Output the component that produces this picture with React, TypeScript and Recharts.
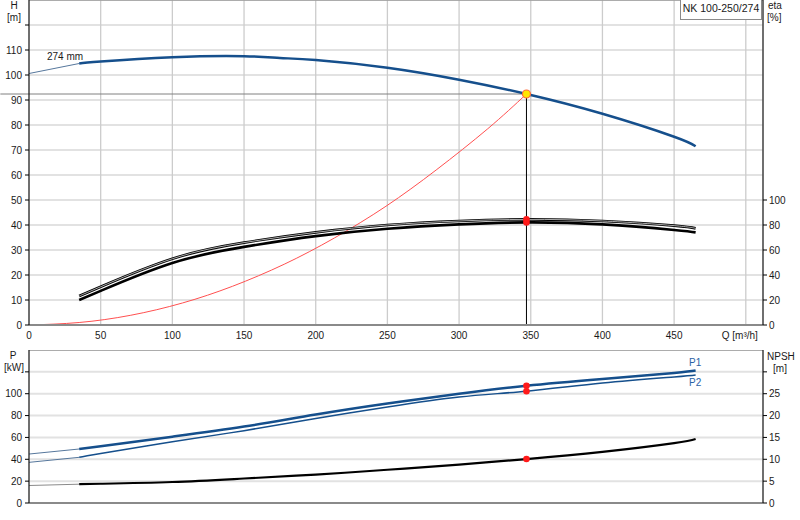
import React from 'react';
import { ComposedChart, Line, XAxis, YAxis, CartesianGrid, ReferenceLine, ReferenceDot } from 'recharts';

// ---------- ticks ----------
const qTicks = [0, 50, 100, 150, 200, 250, 300, 350, 400, 450, 500];
const hTicks = [0, 10, 20, 30, 40, 50, 60, 70, 80, 90, 100, 110, 120];
const etaTicks = [0, 20, 40, 60, 80, 100];
const pTicks = [0, 20, 40, 60, 80, 100, 120];
const npshTicks = [0, 5, 10, 15, 20, 25, 30];

// ---------- head curve (H [m]) ----------
const hThin = [
  { q: 0, v: 100.6 },
  { q: 35, v: 104.6 },
];
const hThick = [
  { q: 35, v: 104.6 },
  { q: 50, v: 105.4 },
  { q: 100, v: 107.1 },
  { q: 150, v: 107.5 },
  { q: 175, v: 106.8 },
  { q: 200, v: 106.0 },
  { q: 250, v: 102.9 },
  { q: 300, v: 98.1 },
  { q: 347, v: 92.4 },
  { q: 400, v: 84.5 },
  { q: 450, v: 75.3 },
  { q: 465, v: 71.5 },
];

// ---------- system curve (H [m]) ----------
const system = [
  { q: 0, v: 0 },
  { q: 35, v: 1.0 },
  { q: 71, v: 3.9 },
  { q: 107, v: 8.8 },
  { q: 142, v: 15.5 },
  { q: 178, v: 24.3 },
  { q: 213, v: 34.8 },
  { q: 249, v: 47.5 },
  { q: 284, v: 62.0 },
  { q: 320, v: 78.5 },
  { q: 347, v: 92.4 },
];

// ---------- efficiency (eta [%]) ----------
const etaUpper = [
  { q: 35, v: 23.2 },
  { q: 50, v: 30.6 },
  { q: 100, v: 53.0 },
  { q: 150, v: 65.9 },
  { q: 200, v: 74.1 },
  { q: 250, v: 80.0 },
  { q: 300, v: 83.2 },
  { q: 347, v: 84.5 },
  { q: 400, v: 83.2 },
  { q: 450, v: 79.5 },
  { q: 465, v: 77.3 },
];
const etaLower = [
  { q: 35, v: 20.0 },
  { q: 50, v: 27.3 },
  { q: 100, v: 49.6 },
  { q: 150, v: 62.5 },
  { q: 200, v: 71.1 },
  { q: 250, v: 77.0 },
  { q: 300, v: 80.5 },
  { q: 347, v: 82.1 },
  { q: 400, v: 80.5 },
  { q: 450, v: 76.0 },
  { q: 465, v: 74.1 },
];

// ---------- power (P [kW]) ----------
const p1Thin = [
  { q: 0, v: 44.8 },
  { q: 35, v: 49.4 },
];
const p1Thick = [
  { q: 35, v: 49.4 },
  { q: 50, v: 52.0 },
  { q: 100, v: 60.7 },
  { q: 150, v: 69.9 },
  { q: 200, v: 81.0 },
  { q: 250, v: 91.1 },
  { q: 300, v: 100.0 },
  { q: 347, v: 107.3 },
  { q: 400, v: 113.5 },
  { q: 450, v: 119.0 },
  { q: 465, v: 121.2 },
];
const p2Thin = [
  { q: 0, v: 37.2 },
  { q: 35, v: 41.8 },
];
const p2Thick = [
  { q: 35, v: 41.8 },
  { q: 50, v: 45.3 },
  { q: 100, v: 56.1 },
  { q: 150, v: 66.2 },
  { q: 200, v: 77.3 },
  { q: 250, v: 87.8 },
  { q: 300, v: 97.0 },
  { q: 347, v: 102.3 },
  { q: 400, v: 109.8 },
  { q: 450, v: 115.4 },
  { q: 465, v: 117.2 },
];

// ---------- NPSH [m] ----------
const npshThin = [
  { q: 0, v: 4.0 },
  { q: 35, v: 4.3 },
];
const npshThick = [
  { q: 35, v: 4.3 },
  { q: 50, v: 4.4 },
  { q: 100, v: 4.8 },
  { q: 150, v: 5.6 },
  { q: 200, v: 6.5 },
  { q: 250, v: 7.6 },
  { q: 300, v: 8.8 },
  { q: 347, v: 10.05 },
  { q: 400, v: 11.7 },
  { q: 450, v: 13.7 },
  { q: 465, v: 14.65 },
];

// ---------- operating point ----------
const opQ = 347;
const opH = 92.4;
const opEta = [84.5, 82.1];
const opP = [107.3, 102.3];
const opNpsh = 10.05;

const FONT = '"Liberation Sans", Arial, sans-serif';
const BLUE = '#154f8c';
const TXT = '#1a1a1a';

const makeYTick = (anchor: 'start' | 'end', hide: number[]) => (props: any) => {
  const { x, y, payload } = props;
  if (hide.includes(payload.value)) return <g />;
  return (
    <text x={x} y={y} textAnchor={anchor} dominantBaseline="central" fontFamily={FONT} fontSize={10} fill={TXT}>
      {payload.value}
    </text>
  );
};

const QTick = (props: any) => {
  const { x, y, payload } = props;
  const label = payload.value === 500 ? 'Q [m³/h]' : String(payload.value);
  const dx = payload.value === 500 ? -6 : 0;
  return (
    <text x={x + dx} y={y + 10} textAnchor="middle" dominantBaseline="central" fontFamily={FONT} fontSize={10} fill={TXT}>
      {label}
    </text>
  );
};

const lineCommon = {
  dot: false as const,
  activeDot: false as const,
  isAnimationActive: false,
  type: 'natural' as const,
  dataKey: 'v',
  xAxisId: 'q',
};

export default function App() {
  return (
    <div style={{ position: 'absolute', left: 0, top: 0, width: 800, height: 520, background: '#fff', overflow: 'hidden' }}>
      <div style={{ position: 'absolute', left: 0, top: 0 }}>
        <ComposedChart width={800} height={345} margin={{ top: 0, right: 0, bottom: 0, left: 0 }}>
          <CartesianGrid xAxisId="q" yAxisId="h" vertical={false} stroke="#e2e2e2" strokeWidth={2} />
          <CartesianGrid xAxisId="q" yAxisId="h" horizontal={false} stroke="#cccccc" strokeWidth={1.3} />
          <XAxis
            xAxisId="q"
            type="number"
            dataKey="q"
            domain={[0, 512]}
            allowDataOverflow
            ticks={qTicks}
            height={20}
            tickLine={false}
            tickSize={0}
            tickMargin={0}
            axisLine={{ stroke: '#8a8a8a', strokeWidth: 2 }}
            tick={QTick}
            interval={0}
          />
          <YAxis
            yAxisId="h"
            orientation="left"
            type="number"
            domain={[0, 130]}
            allowDataOverflow
            ticks={hTicks}
            width={29}
            tickSize={4}
            tickMargin={3}
            axisLine={{ stroke: '#000' }}
            tickLine={{ stroke: '#000' }}
            tick={makeYTick('end', [120])}
            interval={0}
          />
          <YAxis
            yAxisId="eta"
            orientation="right"
            type="number"
            domain={[0, 260]}
            allowDataOverflow
            ticks={etaTicks}
            width={37}
            tickSize={4}
            tickMargin={2}
            axisLine={{ stroke: '#000' }}
            tickLine={{ stroke: '#000' }}
            tick={makeYTick('start', [])}
            interval={0}
          />
          <ReferenceLine xAxisId="q" yAxisId="h" y={130} stroke="#9a9a9a" strokeWidth={1.5} />
          <ReferenceLine
            xAxisId="q"
            yAxisId="h"
            segment={[{ x: -20, y: opH }, { x: opQ, y: opH }]}
            ifOverflow="visible"
            stroke="#808080"
            strokeWidth={1}
          />
          <ReferenceLine
            xAxisId="q"
            yAxisId="h"
            segment={[{ x: opQ, y: 0 }, { x: opQ, y: opH }]}
            ifOverflow="visible"
            stroke="#000"
            strokeWidth={1}
          />
          <Line {...lineCommon} yAxisId="h" data={system} stroke="#ff5050" strokeWidth={1} />
          <Line {...lineCommon} yAxisId="h" data={hThin} stroke="#56779c" strokeWidth={1} />
          <Line {...lineCommon} yAxisId="h" data={hThick} stroke={BLUE} strokeWidth={2.5} />
          <Line {...lineCommon} yAxisId="eta" data={etaLower} stroke="#000" strokeWidth={2.6} />
          <Line {...lineCommon} yAxisId="eta" data={etaUpper} stroke="#000" strokeWidth={2.6} />
          <Line {...lineCommon} yAxisId="eta" data={etaUpper} stroke="#d8d8d8" strokeWidth={0.8} />
          <ReferenceDot xAxisId="q" yAxisId="eta" x={opQ} y={opEta[0]} r={3.3} fill="#ff1a1a" stroke="none" />
          <ReferenceDot xAxisId="q" yAxisId="eta" x={opQ} y={opEta[1]} r={3.3} fill="#ff1a1a" stroke="none" />
          <ReferenceDot xAxisId="q" yAxisId="h" x={opQ} y={opH} r={4} fill="#ffe600" stroke="#ff6a3a" strokeWidth={1.2} />
        </ComposedChart>
      </div>
      <div style={{ position: 'absolute', left: 0, top: 350 }}>
        <ComposedChart width={800} height={170} margin={{ top: 0, right: 0, bottom: 0, left: 0 }}>
          <CartesianGrid xAxisId="q" yAxisId="p" vertical={false} stroke="#e2e2e2" strokeWidth={2} />
          <CartesianGrid xAxisId="q" yAxisId="p" horizontal={false} stroke="#cccccc" strokeWidth={1.3} />
          <XAxis
            xAxisId="q"
            type="number"
            dataKey="q"
            domain={[0, 512]}
            allowDataOverflow
            ticks={qTicks}
            height={17}
            tickLine={false}
            tick={false}
            axisLine={{ stroke: '#8a8a8a', strokeWidth: 2 }}
            interval={0}
          />
          <YAxis
            yAxisId="p"
            orientation="left"
            type="number"
            domain={[0, 140]}
            allowDataOverflow
            ticks={pTicks}
            width={29}
            tickSize={4}
            tickMargin={3}
            axisLine={{ stroke: '#000' }}
            tickLine={{ stroke: '#000' }}
            tick={makeYTick('end', [120])}
            interval={0}
          />
          <YAxis
            yAxisId="npsh"
            orientation="right"
            type="number"
            domain={[0, 35]}
            allowDataOverflow
            ticks={npshTicks}
            width={37}
            tickSize={4}
            tickMargin={2}
            axisLine={{ stroke: '#000' }}
            tickLine={{ stroke: '#000' }}
            tick={makeYTick('start', [30])}
            interval={0}
          />
          <ReferenceLine xAxisId="q" yAxisId="p" y={140} stroke="#9a9a9a" strokeWidth={1.5} />
          <Line {...lineCommon} yAxisId="npsh" data={npshThin} stroke="#8a8a8a" strokeWidth={1} />
          <Line {...lineCommon} yAxisId="npsh" data={npshThick} stroke="#000" strokeWidth={2.2} />
          <Line {...lineCommon} yAxisId="p" data={p2Thin} stroke="#56779c" strokeWidth={1} />
          <Line {...lineCommon} yAxisId="p" data={p2Thick} stroke={BLUE} strokeWidth={1.5} />
          <Line {...lineCommon} yAxisId="p" data={p1Thin} stroke="#56779c" strokeWidth={1} />
          <Line {...lineCommon} yAxisId="p" data={p1Thick} stroke={BLUE} strokeWidth={2.5} />
          <ReferenceDot xAxisId="q" yAxisId="p" x={opQ} y={opP[0]} r={3.3} fill="#ff1a1a" stroke="none" />
          <ReferenceDot xAxisId="q" yAxisId="p" x={opQ} y={opP[1]} r={3.3} fill="#ff1a1a" stroke="none" />
          <ReferenceDot xAxisId="q" yAxisId="npsh" x={opQ} y={opNpsh} r={3.3} fill="#ff1a1a" stroke="none" />
        </ComposedChart>
      </div>
      <svg width={800} height={520} style={{ position: 'absolute', left: 0, top: 0, pointerEvents: 'none' }}>
        <g fontFamily={FONT} fontSize={10} fill={TXT}>
          <text x={14} y={5} textAnchor="middle" dominantBaseline="central">H</text>
          <text x={14} y={17} textAnchor="middle" dominantBaseline="central">[m]</text>
          <text x={768} y={5} textAnchor="start" dominantBaseline="central">eta</text>
          <text x={767} y={17} textAnchor="start" dominantBaseline="central">[%]</text>
          <text x={47} y={56} textAnchor="start" dominantBaseline="central">274 mm</text>
          <text x={13} y={355} textAnchor="middle" dominantBaseline="central">P</text>
          <text x={14} y={367} textAnchor="middle" dominantBaseline="central">[kW]</text>
          <text x={767} y={356} textAnchor="start" dominantBaseline="central">NPSH</text>
          <text x={780} y={368} textAnchor="middle" dominantBaseline="central">[m]</text>
          <text x={689} y={362} textAnchor="start" dominantBaseline="central" fill="#2a62a6">P1</text>
          <text x={689} y={382} textAnchor="start" dominantBaseline="central" fill="#2a62a6">P2</text>
        </g>
        <rect x={680.5} y={-0.5} width={81} height={20} fill="#fff" stroke="#8a8a8a" strokeWidth={1} />
        <text x={721} y={8} textAnchor="middle" dominantBaseline="central" fontFamily={FONT} fontSize={10.5} fill={TXT}>
          NK 100-250/274
        </text>
      </svg>
    </div>
  );
}
